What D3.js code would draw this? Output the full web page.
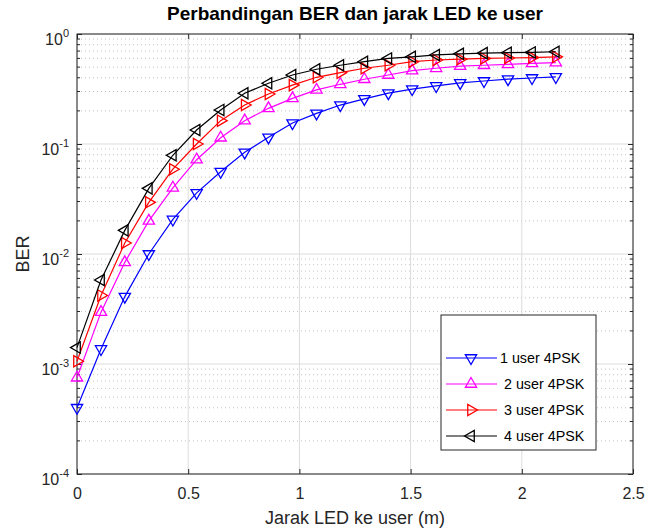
<!doctype HTML>
<html>
<head>
    <script src="https://d3js.org/d3.v7.min.js"></script>
    <style>
        body { margin: 0; background: #fff; }
        text { font-family: "Liberation Sans", Arial, sans-serif; }
    </style>
</head>
<body>
<script>

    // distance values (m)
    var jarak = [0, 0.108, 0.215, 0.323, 0.431, 0.538, 0.646, 0.754, 0.861, 0.969, 1.077,
        1.184, 1.292, 1.400, 1.507, 1.615, 1.723, 1.830, 1.938, 2.046, 2.153];

    // BER per number of users
    var ber1 = [4.0e-4, 1.37e-3, 4.1e-3, 1.0e-2, 2.06e-2, 3.6e-2, 5.6e-2, 8.4e-2, 0.115, 0.155, 0.19,
        0.226, 0.257, 0.29, 0.316, 0.337, 0.359, 0.374, 0.389, 0.398, 0.407];
    var ber2 = [7.5e-4, 2.96e-3, 8.4e-3, 2.0e-2, 4.0e-2, 7.2e-2, 0.114, 0.163, 0.211, 0.26, 0.31,
        0.349, 0.388, 0.424, 0.465, 0.488, 0.51, 0.52, 0.53, 0.54, 0.55];
    var ber3 = [1.06e-3, 4.2e-3, 1.26e-2, 2.95e-2, 5.9e-2, 0.1, 0.163, 0.226, 0.285, 0.343, 0.404,
        0.445, 0.488, 0.52, 0.56, 0.58, 0.59, 0.6, 0.605, 0.61, 0.62];
    var ber4 = [1.41e-3, 5.8e-3, 1.64e-2, 3.95e-2, 7.9e-2, 0.134, 0.204, 0.289, 0.357, 0.424, 0.478,
        0.52, 0.56, 0.6, 0.62, 0.645, 0.66, 0.67, 0.676, 0.68, 0.69];

    var seriesNames = ["1 user 4PSK", "2 user 4PSK", "3 user 4PSK", "4 user 4PSK"];
    var xTicks = [0, 0.5, 1, 1.5, 2, 2.5];
    var yTicks = [1e-4, 1e-3, 1e-2, 1e-1, 1];
    var yExp = ["-4", "-3", "-2", "-1", "0"];

    var margin = {top: 34, right: 13, bottom: 57, left: 77},
        width = 646 - margin.left - margin.right,
        height = 531 - margin.top - margin.bottom;

    var svg = d3.select("body")
        .append("svg")
        .attr("width", 646)
        .attr("height", 531)
        .append("g")
        .attr("transform", "translate(" + margin.left + "," + margin.top + ")");

    var x = d3.scaleLinear().domain([0, 2.5]).range([0, width]);
    var y = d3.scaleLog().domain([1e-4, 1]).range([height, 0]);

    // minor values for log grid
    var minor = [];
    for (var e = -4; e < 0; e++) {
        for (var m = 2; m < 10; m++) minor.push(m * Math.pow(10, e));
    }

    // grid lines
    svg.append("g").selectAll("line")
        .data(minor).enter().append("line")
        .attr("x1", 0).attr("x2", width)
        .attr("y1", d => y(d)).attr("y2", d => y(d))
        .attr("stroke", "#c4c4c4").attr("stroke-width", 1)
        .attr("stroke-dasharray", "1,3");

    svg.append("g").selectAll("line")
        .data(yTicks).enter().append("line")
        .attr("x1", 0).attr("x2", width)
        .attr("y1", d => y(d)).attr("y2", d => y(d))
        .attr("stroke", "#dcdcdc").attr("stroke-width", 1);

    svg.append("g").selectAll("line")
        .data(xTicks).enter().append("line")
        .attr("y1", 0).attr("y2", height)
        .attr("x1", d => x(d)).attr("x2", d => x(d))
        .attr("stroke", "#dcdcdc").attr("stroke-width", 1);

    // axes with inward ticks
    var axisColor = "#262626";
    function styleAxis(g) {
        g.select(".domain").remove();
        g.selectAll(".tick line").attr("stroke", axisColor);
        g.selectAll(".tick text").attr("fill", axisColor).attr("font-size", "16px");
    }

    svg.append("g")
        .attr("transform", "translate(0," + height + ")")
        .call(d3.axisBottom(x).tickValues(xTicks).tickSizeInner(-5).tickSizeOuter(0).tickPadding(14)
            .tickFormat(d3.format("")))
        .call(styleAxis);
    svg.append("g")
        .call(d3.axisTop(x).tickValues(xTicks).tickSizeInner(-5).tickSizeOuter(0).tickFormat(""))
        .call(styleAxis);

    svg.append("g")
        .call(d3.axisLeft(y).tickValues(yTicks).tickSizeInner(-5).tickSizeOuter(0).tickFormat(""))
        .call(styleAxis);
    svg.append("g")
        .attr("transform", "translate(" + width + ",0)")
        .call(d3.axisRight(y).tickValues(yTicks).tickSizeInner(-5).tickSizeOuter(0).tickFormat(""))
        .call(styleAxis);

    // minor ticks on both sides
    svg.append("g").selectAll("line")
        .data(minor).enter().append("line")
        .attr("x1", 0).attr("x2", 3)
        .attr("y1", d => y(d)).attr("y2", d => y(d))
        .attr("stroke", axisColor);
    svg.append("g").selectAll("line")
        .data(minor).enter().append("line")
        .attr("x1", width - 3).attr("x2", width)
        .attr("y1", d => y(d)).attr("y2", d => y(d))
        .attr("stroke", axisColor);

    // y tick labels as 10^n
    var ylab = svg.append("g").selectAll("text")
        .data(yTicks).enter().append("text")
        .attr("x", -8)
        .attr("y", d => y(d) + 11)
        .attr("text-anchor", "end")
        .attr("fill", axisColor)
        .attr("font-size", "16px");
    ylab.append("tspan").text("10");
    ylab.append("tspan").attr("dy", -8).attr("font-size", "11px").text((d, i) => yExp[i]);

    // plot box
    svg.append("rect")
        .attr("width", width).attr("height", height)
        .attr("fill", "none").attr("stroke", axisColor).attr("stroke-width", 1);

    // series
    var series = [
        {name: seriesNames[0], values: ber1, color: "#0000ff", rot: 180},
        {name: seriesNames[1], values: ber2, color: "#ff00ff", rot: 0},
        {name: seriesNames[2], values: ber3, color: "#ff0000", rot: 90},
        {name: seriesNames[3], values: ber4, color: "#000000", rot: -90}
    ];

    var line = d3.line()
        .x((d, i) => x(jarak[i]))
        .y(d => y(d));

    var tri = d3.symbol().type(d3.symbolTriangle).size(55);

    series.forEach(function(s) {
        svg.append("path")
            .datum(s.values)
            .attr("d", line)
            .attr("fill", "none")
            .attr("stroke", s.color)
            .attr("stroke-width", 1.2);
        svg.append("g").selectAll("path")
            .data(s.values).enter().append("path")
            .attr("d", tri)
            .attr("transform", (d, i) => "translate(" + x(jarak[i]) + "," + y(d) + ") rotate(" + s.rot + ")")
            .attr("fill", "none")
            .attr("stroke", s.color)
            .attr("stroke-width", 1.3);
    });

    // legend
    var lg = svg.append("g").attr("transform", "translate(" + (441 - margin.left) + "," + (315 - margin.top) + ")");
    lg.append("rect")
        .attr("width", 155).attr("height", 135)
        .attr("fill", "#fff").attr("stroke", axisColor).attr("stroke-width", 1);
    series.forEach(function(s, i) {
        var ly = 43 + i * 26;
        lg.append("line").attr("x1", 5).attr("x2", 56).attr("y1", ly).attr("y2", ly)
            .attr("stroke", s.color).attr("stroke-width", 1.2);
        lg.append("path").attr("d", tri)
            .attr("transform", "translate(30," + ly + ") rotate(" + s.rot + ")")
            .attr("fill", "none").attr("stroke", s.color).attr("stroke-width", 1.3);
        lg.append("text").attr("x", i === 0 ? 59 : 63).attr("y", ly + 5)
            .attr("font-size", "14.3px").attr("fill", "#000").text(s.name);
    });

    // title and axis labels
    svg.append("text")
        .attr("x", width / 2).attr("y", -14)
        .attr("text-anchor", "middle")
        .attr("font-size", "19px").attr("font-weight", "bold")
        .text("Perbandingan BER dan jarak LED ke user");

    svg.append("text")
        .attr("x", width / 2).attr("y", height + 50)
        .attr("text-anchor", "middle")
        .attr("font-size", "18px").attr("fill", axisColor)
        .text("Jarak LED ke user (m)");

    svg.append("text")
        .attr("transform", "translate(-48," + (height / 2) + ") rotate(-90)")
        .attr("text-anchor", "middle")
        .attr("font-size", "18px").attr("fill", axisColor)
        .text("BER");

</script>
</body>
</html>
